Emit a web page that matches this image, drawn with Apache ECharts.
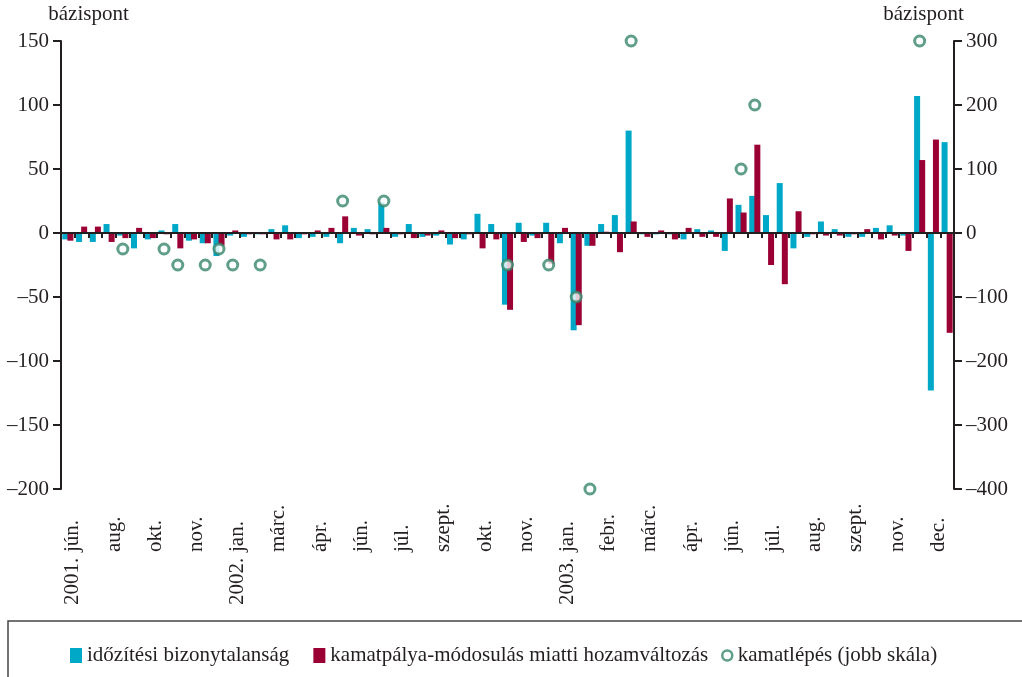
<!DOCTYPE html>
<html>
<head>
<meta charset="utf-8">
<script src="https://cdn.jsdelivr.net/npm/echarts@6/dist/echarts.min.js"></script>
<style>
  html, body { margin: 0; padding: 0; background: #fff; }
  #chart { width: 1022px; height: 677px; }
</style>
</head>
<body>
<div id="chart"></div>
<script>
// every 3rd event gets a label on the time axis
const tickLabels = ['2001. jún.', 'aug.', 'okt.', 'nov.', '2002. jan.', 'márc.', 'ápr.', 'jún.', 'júl.', 'szept.', 'okt.',
  'nov.', '2003. jan.', 'febr.', 'márc.', 'ápr.', 'jún.', 'júl.', 'aug.', 'szept.', 'nov.', 'dec.'];

// időzítési bizonytalanság (bázispont)
const timing = [-5, -7, -7, 7, -2, -12, -5, 2, 7, -6, -8, -18, -2, -3, -1, 3, 6, -4, -3, -3, -8, 4, 3, 24, -3, 7,
  -3, -2, -9, -5, 15, 7, -56, 8, -2, 8, -8, -76, -10, 7, 14, 80, -1, -1, -1, -5, 3, 2, -14, 22, 29, 14, 39, -12,
  -3, 9, 3, -3, -3, 4, 6, -2, 107, -123, 71];

// kamatpálya-módosulás miatti hozamváltozás (bázispont)
const pathChange = [-6, 5, 5, -7, -4, 4, -4, -1, -12, -5, -8, -10, 2, -1, -1, -5, -5, -1, 2, 4, 13, -2, -1, 4, -1, -4,
  -2, 2, -4, -1, -12, -5, -60, -7, -4, -24, 4, -72, -10, 1, -15, 9, -3, 2, -5, 4, -3, -3, 27, 16, 69, -25, -40, 17,
  -1, -2, -2, -1, 3, -5, -2, -14, 57, 73, -78];

// kamatlépés, jobb skála (bázispont); null = nem volt lépés
const rateStep = [null, null, null, null, -25, null, null, -25, -50, null, -50, -25, -50, null, -50, null, null, null,
  null, null, 50, null, null, 50, null, null, null, null, null, null, null, null, -50, null, null, -50, null, -100,
  -400, null, null, 300, null, null, null, null, null, null, null, 100, 200, null, null, null, null, null, null, null,
  null, null, null, null, 300, null, null];

const categories = timing.map((v, i) => (i % 3 === 0 ? tickLabels[i / 3] : ''));

const dark = '#231f20';
const green = '#37866a';
const font = '"Liberation Serif", "Times New Roman", serif';

function numFmt(v) {
  return v < 0 ? '\u2013' + Math.abs(v) : String(v);
}

const myChart = echarts.init(document.getElementById('chart'));

const option = {
  animation: false,
  textStyle: { fontFamily: font, color: dark },
  grid: { left: 61, right: 68, top: 41, bottom: 188 },
  graphic: [{
    type: 'rect',
    shape: { x: 8, y: 621, width: 1040, height: 80 },
    style: { fill: 'none', stroke: '#444', lineWidth: 1.5 }
  }],
  legend: [{
    left: 65,
    top: 640,
    itemGap: 24,
    itemWidth: 12,
    itemHeight: 15,
    icon: 'rect',
    textStyle: { fontFamily: font, fontSize: 21, color: dark },
    data: ['időzítési bizonytalanság', 'kamatpálya-módosulás miatti hozamváltozás']
  }, {
    left: 716,
    top: 640,
    itemWidth: 11,
    itemHeight: 10,
    itemStyle: { borderWidth: 2.5 },
    textStyle: { fontFamily: font, fontSize: 21, color: dark },
    data: ['kamatlépés (jobb skála)']
  }],
  xAxis: [{
    type: 'category',
    data: categories,
    z: 5,
    axisLine: { onZero: true, lineStyle: { color: dark, width: 2 } },
    axisTick: { show: true, interval: 0, length: 5, lineStyle: { color: dark, width: 2 } },
    axisLabel: { show: false }
  }, {
    type: 'category',
    data: categories,
    position: 'bottom',
    axisLine: { show: false, onZero: false },
    axisTick: { show: false },
    axisLabel: {
      interval: 0,
      rotate: 90,
      align: 'left',
      margin: 116,
      padding: [10, 0, 0, 0],
      formatter(value) {
        if (!value) return '';
        const m = value.match(/^(\d{4}\. )(.*)$/);
        const year = m ? m[1] : '\u00a0';
        const month = m ? m[2] : value;
        return '{y|' + year + '}{m|' + month + '}';
      },
      rich: {
        y: { width: 53, fontSize: 21, fontFamily: font, color: dark },
        m: { fontSize: 21, fontFamily: font, color: dark }
      }
    }
  }],
  yAxis: [{
    type: 'value',
    min: -200,
    max: 150,
    interval: 50,
    name: 'bázispont',
    nameLocation: 'end',
    nameGap: 16,
    nameTextStyle: { fontSize: 21, fontFamily: font, color: dark, align: 'center', padding: [0, 0, 0, 55] },
    axisLine: { show: true, lineStyle: { color: dark, width: 2 } },
    axisTick: { show: true, length: 8, lineStyle: { color: dark, width: 2 } },
    splitLine: { show: false },
    axisLabel: { fontSize: 21, fontFamily: font, color: dark, margin: 12, formatter: numFmt }
  }, {
    type: 'value',
    min: -400,
    max: 300,
    interval: 100,
    position: 'right',
    name: 'bázispont',
    nameLocation: 'end',
    nameGap: 16,
    nameTextStyle: { fontSize: 21, fontFamily: font, color: dark, align: 'center', padding: [0, 61, 0, 0] },
    axisLine: { show: true, lineStyle: { color: dark, width: 2 } },
    axisTick: { show: true, length: 8, lineStyle: { color: dark, width: 2 } },
    splitLine: { show: false },
    axisLabel: { fontSize: 21, fontFamily: font, color: dark, margin: 12, formatter: numFmt }
  }],
  series: [{
    name: 'időzítési bizonytalanság',
    type: 'bar',
    barWidth: 6,
    barGap: '-15%',
    itemStyle: { color: '#00a8c8' },
    data: timing
  }, {
    name: 'kamatpálya-módosulás miatti hozamváltozás',
    type: 'bar',
    barWidth: 6,
    itemStyle: { color: '#9b0034' },
    data: pathChange
  }, {
    name: 'kamatlépés (jobb skála)',
    type: 'scatter',
    yAxisIndex: 1,
    z: 6,
    clip: false,
    symbol: 'circle',
    symbolSize: 10,
    itemStyle: { color: '#fff', borderColor: green, borderWidth: 3 },
    data: rateStep
  }]
};

myChart.setOption(option);
</script>
</body>
</html>
